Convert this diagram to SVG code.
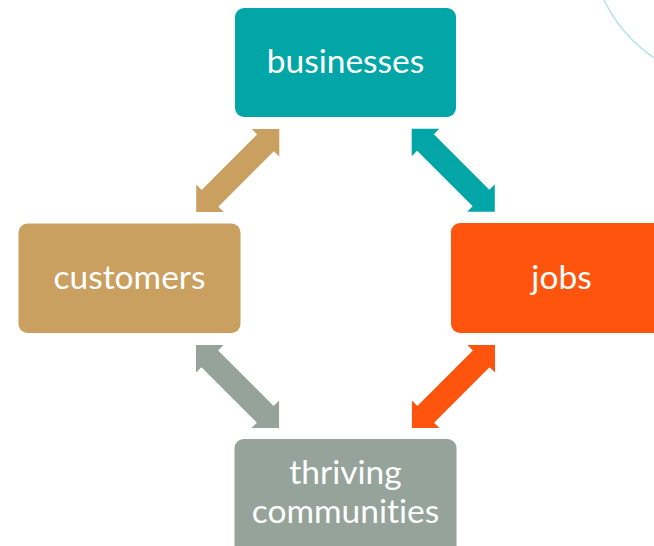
<svg xmlns="http://www.w3.org/2000/svg" xmlns:xlink="http://www.w3.org/1999/xlink" width="654" height="546" viewBox="0 0 654 546">
  <style>
    .label { font-family: "Lato", "Liberation Sans", sans-serif; font-size: 33.5px; fill: #ffffff; text-anchor: middle; font-variant-ligatures: none; }
    .teal { fill: #03A6A6; }
    .tan { fill: #C9A05F; }
    .orange { fill: #FE540E; }
    .gray { fill: #95A39B; }
  </style>
  <defs>
    <!-- double-headed block arrow, tip at origin, pointing along +x -->
    <polygon id="dbl" points="0,0 19.5,-19.5 19.5,-11.8 98,-11.8 98,-19.5 117.5,0 98,19.5 98,11.8 19.5,11.8 19.5,19.5"/>
  </defs>
  <rect width="654" height="546" fill="#ffffff"/>
  <!-- decorative arc in the corner -->
  <path d="M604,0 A147,147 0 0 0 654,57.8" fill="none" stroke="#B4E3E3" stroke-width="1.5"/>

  <g id="connectors">
    <use xlink:href="#dbl" class="teal" transform="translate(411.7,128.7) rotate(45)"/>
    <use xlink:href="#dbl" class="tan" transform="translate(279.3,129) rotate(135)"/>
    <use xlink:href="#dbl" class="gray" transform="translate(196,345) rotate(45)"/>
    <use xlink:href="#dbl" class="orange" transform="translate(495,345) rotate(135)"/>
  </g>

  <g id="businesses">
    <rect class="teal" x="235" y="8" width="221" height="109" rx="9"/>
    <text class="label" x="345.5" y="73">businesses</text>
  </g>
  <g id="customers">
    <rect class="tan" x="18.5" y="223.5" width="222" height="109.5" rx="9"/>
    <text class="label" x="129.5" y="289">customers</text>
  </g>
  <g id="jobs">
    <rect class="orange" x="451" y="223" width="215" height="110" rx="9"/>
    <text class="label" x="561.5" y="289">jobs</text>
  </g>
  <g id="thriving-communities">
    <rect class="gray" x="234.5" y="439" width="222" height="115" rx="9"/>
    <text class="label" x="345.5" y="484">thriving</text>
    <text class="label" x="345.5" y="523">communities</text>
  </g>
</svg>
